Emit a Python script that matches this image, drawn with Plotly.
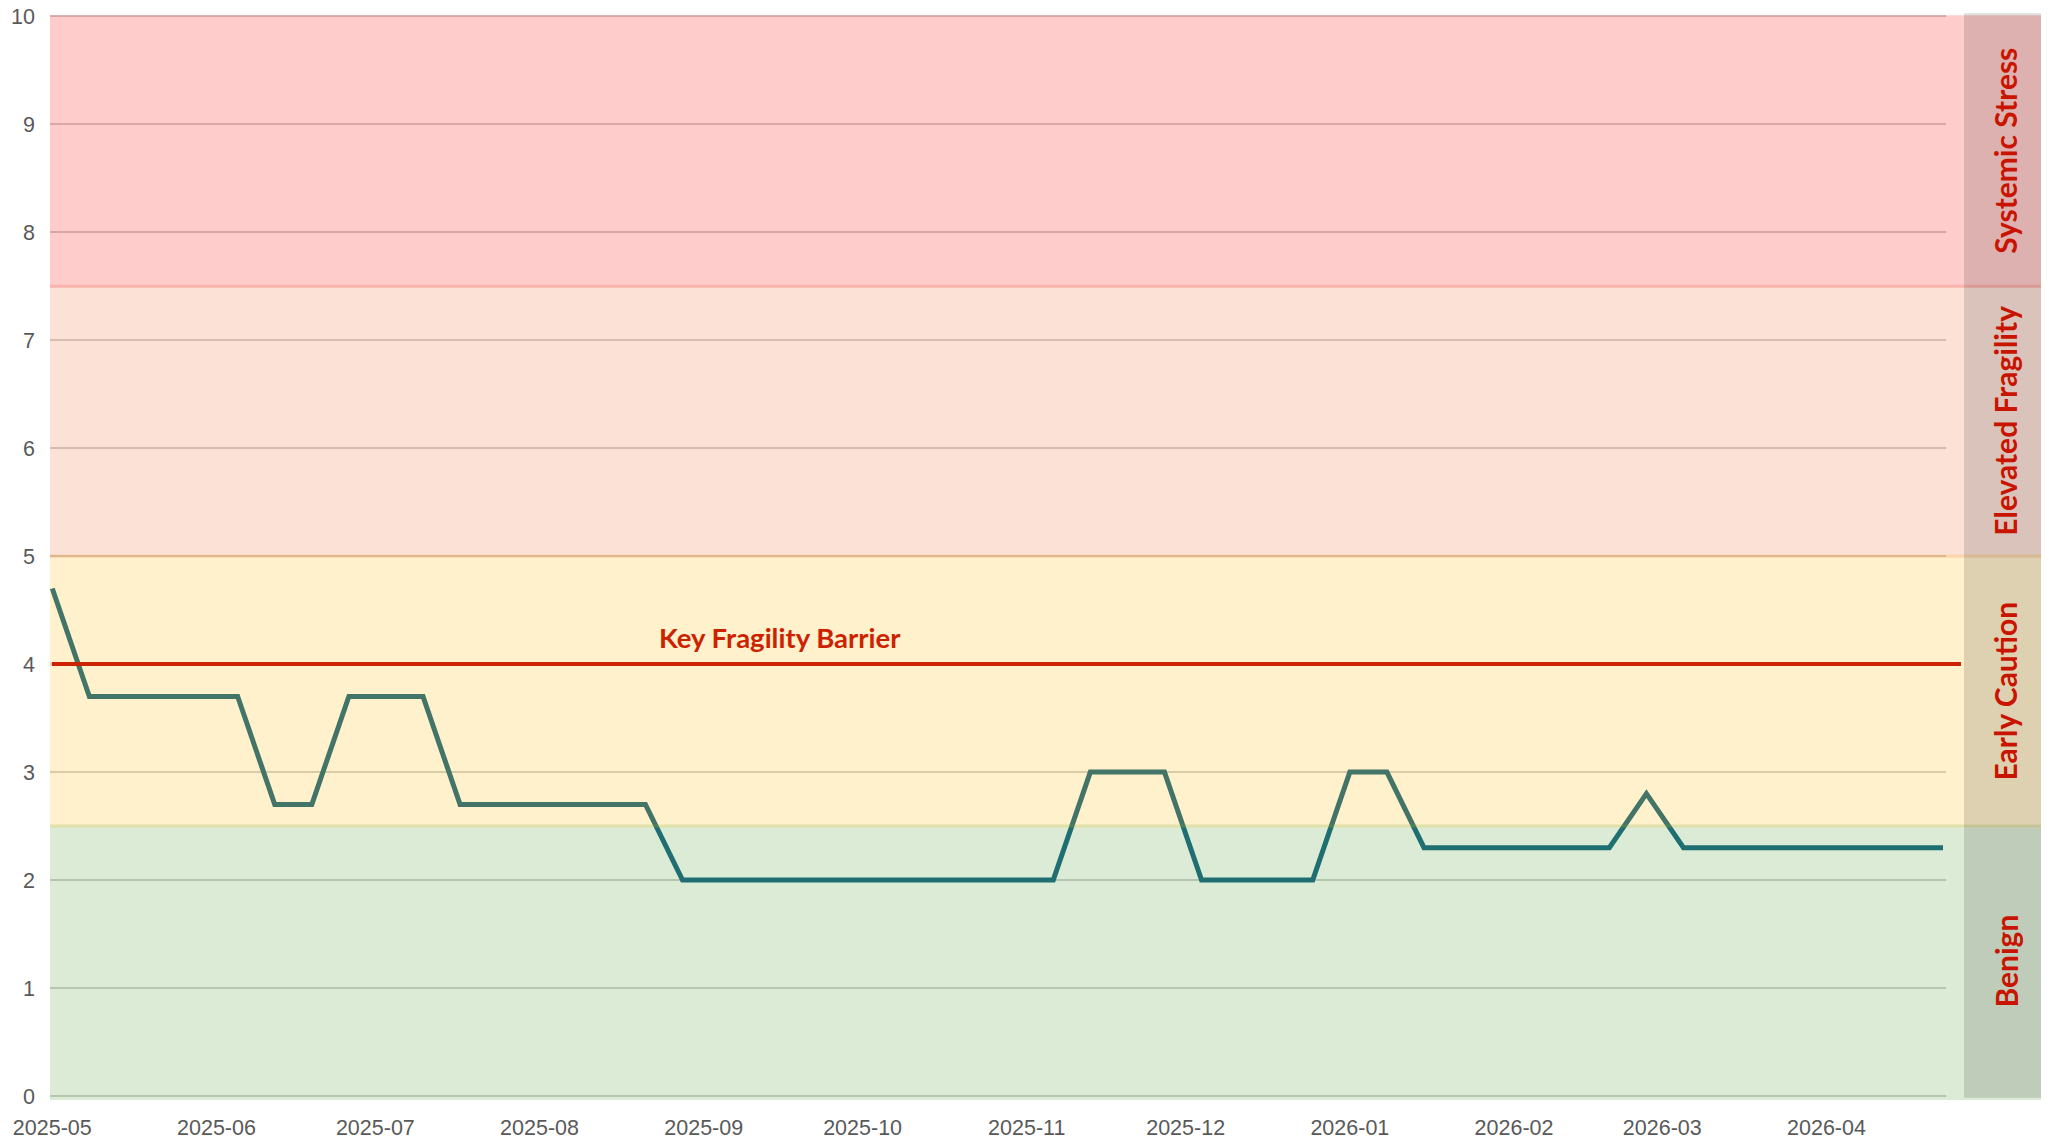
import pandas as pd
import plotly.graph_objects as go

# ---------------- data ----------------
start_date = "2025-05-01"
n_weeks = 52
dates = pd.date_range(start_date, periods=n_weeks, freq="7D")

index_values = [
    4.7,
    3.7, 3.7, 3.7, 3.7, 3.7,
    2.7, 2.7,
    3.7, 3.7, 3.7,
    2.7, 2.7, 2.7, 2.7, 2.7, 2.7,
    2.0, 2.0, 2.0, 2.0, 2.0, 2.0, 2.0, 2.0, 2.0, 2.0, 2.0,
    3.0, 3.0, 3.0,
    2.0, 2.0, 2.0, 2.0,
    3.0, 3.0,
    2.3, 2.3, 2.3, 2.3, 2.3, 2.3,
    2.8,
    2.3, 2.3, 2.3, 2.3, 2.3, 2.3, 2.3, 2.3,
]

zone_names = ["Benign", "Early Caution", "Elevated Fragility", "Systemic Stress"]
zone_low = [0.0, 2.5, 5.0, 7.5]
zone_high = [2.5, 5.0, 7.5, 10.0]
zone_colors = ["rgb(75,155,45)", "rgb(255,185,0)", "rgb(235,105,50)", "rgb(255,0,0)"]

barrier_value = 4.0
barrier_label = "Key Fragility Barrier"

# ---------------- style ----------------
W, H = 2049, 1144
LINE_COLOR = "rgb(20,99,130)"
RED = "#CC2200"
LABEL_RED = "#C81400"
TICK_FONT = dict(family="Liberation Sans, Arial, sans-serif", size=21.5, color="#595959")
BOLD_FONT = "Lato, Carlito, Calibri, sans-serif"

Y_VIEW = [-0.037, 10.03]
X_VIEW = [pd.Timestamp(start_date) - pd.Timedelta(hours=10.4),
          dates[-1] + pd.Timedelta(hours=13.6)]

fig = go.Figure()
fig.add_trace(go.Scatter(
    x=dates, y=index_values, mode="lines",
    line=dict(color=LINE_COLOR, width=5),
    showlegend=False, hoverinfo="x+y",
))

shapes = []
edge = 0.014
for i, (lo, hi, col) in enumerate(zip(zone_low, zone_high, zone_colors)):
    y0 = Y_VIEW[0] if i == 0 else lo - edge
    y1 = hi + 0.01 if i == len(zone_low) - 1 else hi + edge
    shapes.append(dict(type="rect", xref="paper", yref="y", x0=0, x1=1.0538,
                       y0=y0, y1=y1, fillcolor=col, opacity=0.2,
                       line=dict(width=0), layer="above"))
# darker label strip on the right
shapes.append(dict(type="rect", xref="paper", yref="y", x0=1.0095, x1=1.0533,
                   y0=-0.016, y1=10.028, fillcolor="rgba(0,0,0,0.13)",
                   line=dict(width=0), layer="above"))
# barrier line
shapes.append(dict(type="line", xref="paper", yref="y", x0=0.001, x1=1.0079,
                   y0=barrier_value, y1=barrier_value,
                   line=dict(color=RED, width=4), layer="above"))

annotations = []
for name, lo, hi in zip(zone_names, zone_low, zone_high):
    annotations.append(dict(
        xref="paper", yref="y", x=1.0314, y=(lo + hi) / 2,
        text=f"<b>{name}</b>", showarrow=False, textangle=-90,
        font=dict(family=BOLD_FONT, size=30, color=LABEL_RED),
        xanchor="center", yanchor="middle",
    ))
annotations.append(dict(
    xref="paper", yref="y", x=0.385, y=barrier_value,
    text=f"<b>{barrier_label}</b>", showarrow=False,
    font=dict(family=BOLD_FONT, size=27.5, color=RED),
    xanchor="center", yanchor="middle", yshift=27,
))

# the page body adds an 8px offset, so margins are reduced by 8px
fig.update_layout(
    width=W, height=H,
    margin=dict(l=42, r=111, t=5, b=52, pad=0, autoexpand=False),
    paper_bgcolor="white", plot_bgcolor="white",
    shapes=shapes, annotations=annotations,
    showlegend=False,
    xaxis=dict(type="date", range=X_VIEW, tickformat="%Y-%m", dtick="M1",
               tick0=start_date, showgrid=False, zeroline=False, showline=False,
               ticks="", tickfont=TICK_FONT, ticklabelstandoff=12, automargin=False,
               ticklabeloverflow="allow"),
    yaxis=dict(range=Y_VIEW, dtick=1, tick0=0, showgrid=True,
               gridcolor="#D0D0D0", gridwidth=1.5, zeroline=False, showline=False,
               ticks="", tickfont=TICK_FONT, ticklabelstandoff=14, automargin=False,
               ticklabeloverflow="allow"),
)

fig.write_html("out.html")
